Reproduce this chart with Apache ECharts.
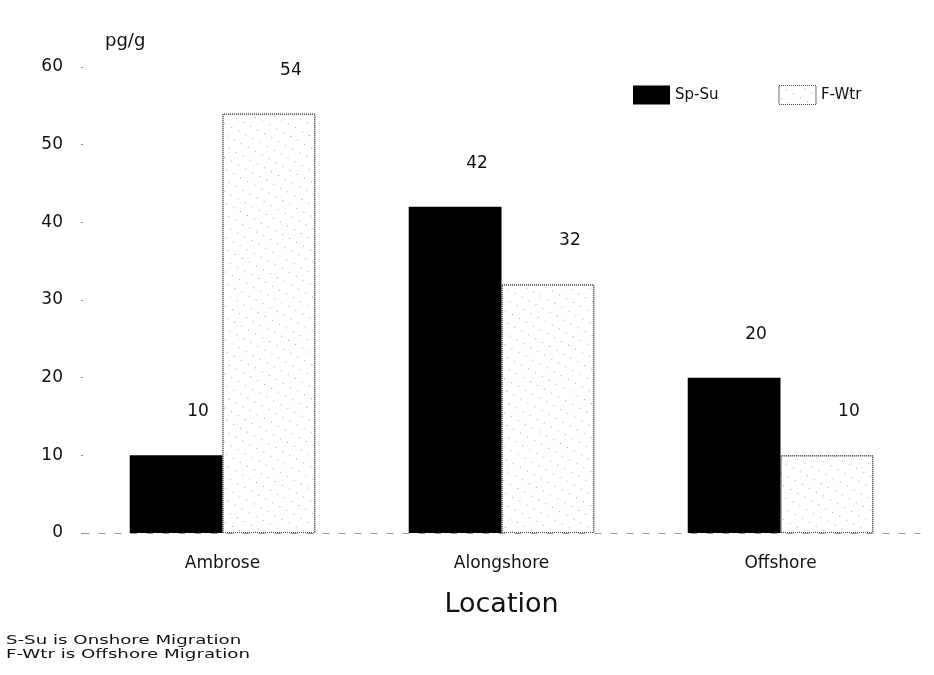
<!DOCTYPE html>
<html>
<head>
<meta charset="utf-8">
<script src="https://cdn.jsdelivr.net/npm/echarts@6/dist/echarts.min.js"></script>
<style>html,body{margin:0;padding:0;background:#fff}#c{width:934px;height:675px}</style>
</head>
<body>
<div id="c"></div>
<script>
const categories = ['Ambrose', 'Alongshore', 'Offshore'];
const spSu = [10, 42, 20];
const fWtr = [54, 32, 10];
const yTicks = [0, 10, 20, 30, 40, 50, 60];
const seriesNames = ['Sp-Su', 'F-Wtr'];
const notes = ['S-Su is Onshore Migration', 'F-Wtr is Offshore Migration'];

const FONT = '"DejaVu Sans", "Liberation Sans", Arial, sans-serif';
const chart = echarts.init(document.getElementById('c'), null, {renderer: 'canvas'});
const labelStyle = {show: true, position: 'top', fontFamily: FONT, fontSize: 17, color: '#111', offset: [22, -30]};
const stipple = {symbol: 'rect', symbolSize: 1, color: 'rgba(60,60,60,0.45)', dashArrayX: [1, 7], dashArrayY: [1, 9], rotation: 0.5};

chart.setOption({
  backgroundColor: '#fff',
  animation: false,
  title: {text: 'pg/g', left: 100, top: 27, textStyle: {fontFamily: FONT, fontSize: 18, fontWeight: 'normal', color: '#111'}},
  legend: {
    data: [
      {name: seriesNames[0], icon: 'rect', itemStyle: {color: '#000', borderWidth: 0}},
      {name: seriesNames[1], icon: 'rect', itemStyle: {color: '#fff', borderColor: '#555', borderWidth: 1, borderType: 'dotted'}}
    ],
    left: 628, top: 80, itemWidth: 37, itemHeight: 19, itemGap: 60,
    textStyle: {fontFamily: FONT, fontSize: 15, color: '#111'}
  },
  grid: {left: 83, right: 14, top: 67, bottom: 142},
  xAxis: {
    type: 'category', data: categories,
    name: 'Location', nameLocation: 'middle', nameGap: 58,
    nameTextStyle: {fontFamily: FONT, fontSize: 27, color: '#111'},
    axisLine: {show: true, lineStyle: {color: '#999', type: [6, 10], width: 1}},
    axisTick: {show: false},
    axisLabel: {fontFamily: FONT, fontSize: 17, color: '#111', margin: 22}
  },
  yAxis: {
    type: 'value', min: yTicks[0], max: yTicks[yTicks.length - 1], interval: 10,
    axisLine: {show: false},
    axisTick: {show: true, length: 2, lineStyle: {color: '#888'}},
    splitLine: {show: false},
    axisLabel: {fontFamily: FONT, fontSize: 17, color: '#111', margin: 20}
  },
  series: [
    {
      name: seriesNames[0], type: 'bar', data: spSu, barGap: '0%', barCategoryGap: '33.5%',
      itemStyle: {color: '#000'},
      label: labelStyle
    },
    {
      name: seriesNames[1], type: 'bar', data: fWtr,
      itemStyle: {color: '#fff', borderColor: '#444', borderWidth: 1, borderType: 'dotted', decal: stipple},
      label: labelStyle
    }
  ],
  graphic: [
    {type: 'text', left: 6, top: 634, scaleX: 1.4, style: {text: notes[0], fontFamily: FONT, fontSize: 13, fill: '#111'}},
    {type: 'text', left: 6, top: 648, scaleX: 1.4, style: {text: notes[1], fontFamily: FONT, fontSize: 13, fill: '#111'}}
  ]
});
</script>
</body>
</html>
